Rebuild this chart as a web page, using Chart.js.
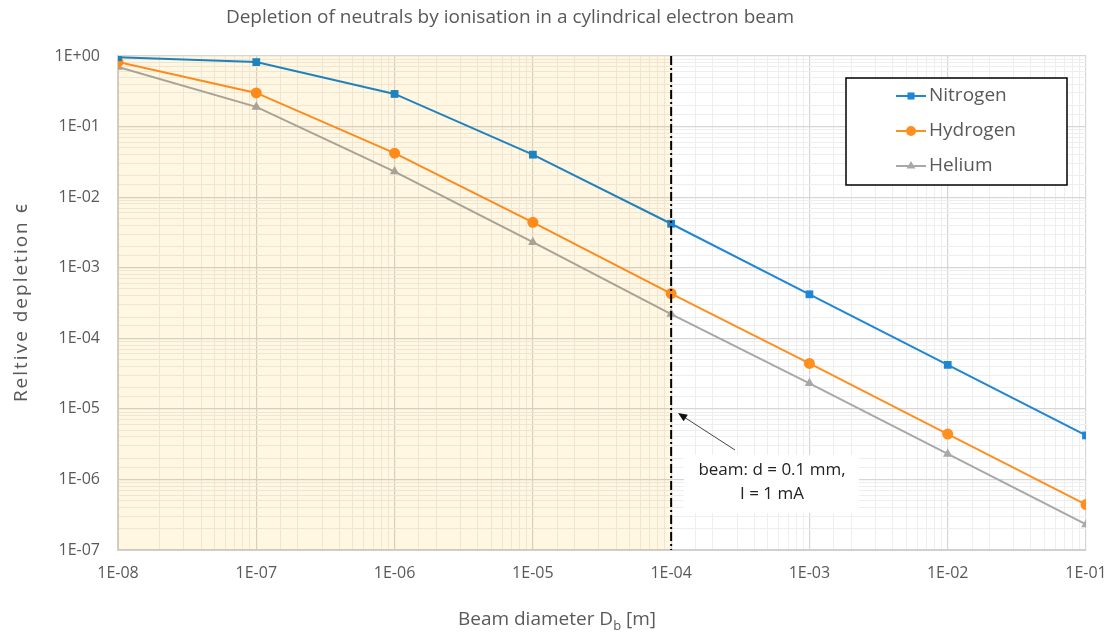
<!DOCTYPE html>
<html><head><meta charset="utf-8">
<script src="https://cdn.jsdelivr.net/npm/chart.js@4/dist/chart.umd.min.js"></script>
<style>html,body{margin:0;padding:0;background:#fff;}canvas{display:block;}</style>
</head><body>
<canvas id="c" width="1110" height="632"></canvas>
<script>
const diameters = [1e-8, 1e-7, 1e-6, 1e-5, 1e-4, 1e-3, 1e-2, 1e-1];
const nitrogen = [0.96, 0.82, 0.29, 0.040, 0.0042, 4.2e-4, 4.2e-5, 4.2e-6];
const hydrogen = [0.82, 0.30, 0.042, 0.0044, 4.3e-4, 4.4e-5, 4.4e-6, 4.4e-7];
const helium   = [0.70, 0.19, 0.023, 0.0023, 2.2e-4, 2.3e-5, 2.3e-6, 2.3e-7];
const seriesNames = ['Nitrogen', 'Hydrogen', 'Helium'];
const beamLine = 1e-4;
const shadeRange = [1e-8, 1e-4];
const chartTitle = 'Depletion of neutrals by ionisation in a cylindrical electron beam';
const yTitle = 'Reltive depletion \u03F5';
const noteLines = ['beam: d = 0.1 mm,', 'I = 1 mA'];

const FONT = '"Open Sans", "Noto Sans", sans-serif';
const GREY = '#595959';
const colors = ['#1F86D6', '#FF8F1F', '#A8A8A8'];
const styles = ['rect', 'circle', 'triangle'];

function isMajor(v){ const l = Math.log10(v); return Math.abs(l - Math.round(l)) < 1e-6; }
function fmt(v){ const e = Math.round(Math.log10(v)); return '1E' + (e < 0 ? '-' : '+') + String(Math.abs(e)).padStart(2, '0'); }

const mk = (name, data, i) => ({
  label: name,
  data: diameters.map((x, k) => ({x, y: data[k]})),
  borderColor: colors[i], backgroundColor: colors[i],
  borderWidth: 2, pointStyle: styles[i], pointRadius: i === 2 ? 5.5 : 5.5,
  pointBorderWidth: 0, tension: 0
});

const deco = {
  id: 'deco',
  afterDatasetsDraw(chart){
    const {ctx, chartArea: a, scales: {x, y}} = chart;
    ctx.save();
    ctx.globalCompositeOperation = 'multiply';
    ctx.fillStyle = '#FFF7E2';
    const x0 = x.getPixelForValue(shadeRange[0]), x1 = x.getPixelForValue(shadeRange[1]);
    ctx.fillRect(x0, a.top, x1 - x0, a.bottom - a.top);
    ctx.restore();
    ctx.save();
    const xb = x.getPixelForValue(beamLine);
    ctx.strokeStyle = '#000'; ctx.lineWidth = 2;
    ctx.setLineDash([9, 3, 2, 3]);
    ctx.beginPath(); ctx.moveTo(xb, a.top); ctx.lineTo(xb, a.bottom); ctx.stroke();
    ctx.restore();
  },
  afterDraw(chart){
    const {ctx} = chart;
    ctx.save();
    ctx.fillStyle = GREY; ctx.textAlign = 'center'; ctx.textBaseline = 'middle';
    ctx.font = '19px ' + FONT;
    ctx.fillText(chartTitle, 510, 18);
    ctx.save();
    ctx.translate(22, 302); ctx.rotate(-Math.PI / 2);
    ctx.font = '19px ' + FONT;
    try { ctx.letterSpacing = '2px'; } catch(e) {}
    ctx.fillText(yTitle, 0, 0);
    ctx.restore();
    ctx.font = '19px ' + FONT;
    const p1 = 'Beam diameter D', sub = 'b', p2 = ' [m]';
    const w1 = ctx.measureText(p1).width, w3 = ctx.measureText(p2).width;
    ctx.font = '13px ' + FONT;
    const w2 = ctx.measureText(sub).width;
    const tot = w1 + w2 + w3;
    let sx = 557 - tot / 2;
    ctx.textAlign = 'left';
    ctx.font = '19px ' + FONT; ctx.fillText(p1, sx, 620);
    ctx.font = '13px ' + FONT; ctx.fillText(sub, sx + w1, 626);
    ctx.font = '19px ' + FONT; ctx.fillText(p2, sx + w1 + w2, 620);
    // legend
    const lx = 846, ly = 78, lw = 221, lh = 107;
    ctx.fillStyle = '#fff'; ctx.fillRect(lx, ly, lw, lh);
    ctx.strokeStyle = '#000'; ctx.lineWidth = 1.5; ctx.strokeRect(lx, ly, lw, lh);
    chart.data.datasets.forEach((ds, i) => {
      const yy = 96 + i * 35;
      ctx.strokeStyle = ds.borderColor; ctx.lineWidth = 2;
      ctx.beginPath(); ctx.moveTo(896, yy); ctx.lineTo(926, yy); ctx.stroke();
      ctx.fillStyle = ds.borderColor;
      Chart.helpers.drawPoint(ctx, {pointStyle: ds.pointStyle, radius: 5, borderWidth: 0}, 911, yy);
      ctx.fillStyle = GREY; ctx.textAlign = 'left'; ctx.textBaseline = 'middle';
      ctx.font = '19px ' + FONT;
      ctx.fillText(ds.label, 929, yy);
    });
    // annotation arrow
    ctx.strokeStyle = '#444'; ctx.lineWidth = 1; ctx.setLineDash([]);
    const ax0 = 735, ay0 = 450, ax1 = 678, ay1 = 413;
    ctx.beginPath(); ctx.moveTo(ax0, ay0); ctx.lineTo(ax1 + 6, ay1 + 4); ctx.stroke();
    const ang = Math.atan2(ay1 - ay0, ax1 - ax0);
    ctx.fillStyle = '#111';
    ctx.beginPath();
    ctx.moveTo(ax1, ay1);
    ctx.lineTo(ax1 - 10 * Math.cos(ang - 0.4), ay1 - 10 * Math.sin(ang - 0.4));
    ctx.lineTo(ax1 - 10 * Math.cos(ang + 0.4), ay1 - 10 * Math.sin(ang + 0.4));
    ctx.closePath(); ctx.fill();
    ctx.fillStyle = '#fff'; ctx.fillRect(684, 455, 175, 58);
    ctx.fillStyle = '#222'; ctx.textAlign = 'center'; ctx.textBaseline = 'middle';
    ctx.font = '17px ' + FONT;
    ctx.fillText(noteLines[0], 772, 470);
    ctx.fillText(noteLines[1], 772, 494);
    ctx.restore();
  }
};

const gridCfg = {
  color: c => (c.tick && isMajor(c.tick.value)) ? '#D6D6D6' : '#EEEEEE',
  lineWidth: c => (c.tick && isMajor(c.tick.value)) ? 1.2 : 1,
  drawTicks: false
};

new Chart(document.getElementById('c'), {
  type: 'line',
  data: { datasets: [mk(seriesNames[0], nitrogen, 0), mk(seriesNames[1], hydrogen, 1), mk(seriesNames[2], helium, 2)] },
  options: {
    responsive: false, animation: false,
    layout: { padding: { top: 56, right: 24, left: 0, bottom: 0 } },
    plugins: { legend: { display: false }, title: { display: false }, tooltip: { enabled: false } },
    scales: {
      x: {
        type: 'logarithmic', min: 1e-8, max: 1e-1,
        grid: gridCfg,
        border: { color: '#D0D0D0', width: 2 },
        ticks: { autoSkip: false, maxRotation: 0, padding: 14, color: GREY, font: { family: FONT, size: 16 },
          callback: (v) => isMajor(v) ? fmt(v) : '' },
        afterFit: s => { s.height = 82; s.paddingLeft = 0; s.paddingRight = 0; }
      },
      y: {
        type: 'logarithmic', min: 1e-7, max: 1,
        grid: gridCfg,
        border: { color: '#D0D0D0', width: 2 },
        ticks: { autoSkip: false, padding: 18, color: GREY, font: { family: FONT, size: 16 },
          callback: (v) => isMajor(v) ? fmt(v) : '' },
        afterFit: s => { s.width = 118; s.paddingTop = 0; s.paddingBottom = 0; }
      }
    }
  },
  plugins: [deco]
});
</script>
</body></html>
